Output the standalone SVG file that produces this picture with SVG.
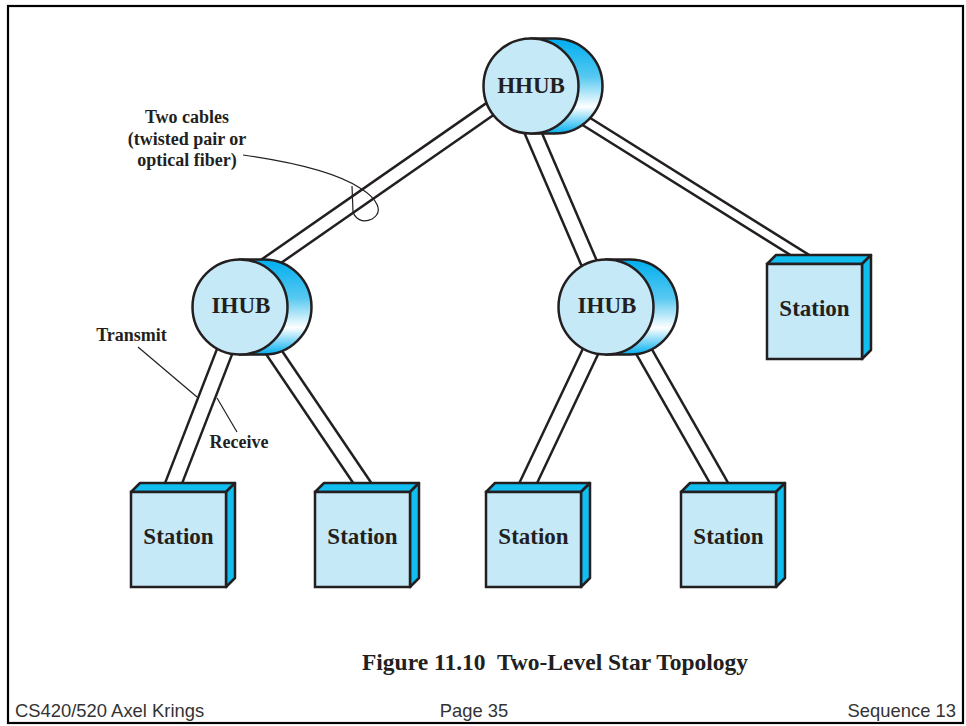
<svg xmlns="http://www.w3.org/2000/svg" xmlns:xlink="http://www.w3.org/1999/xlink" width="966" height="726" viewBox="0 0 966 726">
<style>
.frame{fill:#fff;stroke:#000;stroke-width:2.2}
.co{fill:none;stroke:#231f20;stroke-linecap:butt}
.ci{fill:none;stroke:#fff;stroke-linecap:butt}
.front{fill:#c6e9f8;stroke:#231f20;stroke-width:2.5}
.side{fill:#12bdf0;stroke:#231f20;stroke-width:2.5;stroke-linejoin:round}
.back{fill:url(#hubg);stroke:#231f20;stroke-width:2.5}
.lbl{font-family:"Liberation Serif","Times New Roman",serif;font-weight:bold;fill:#231f20;text-anchor:middle}
.node{font-size:23px}
.ann{font-size:18px}
.cap{font-size:23.5px;white-space:pre}
.lead{fill:none;stroke:#231f20;stroke-width:1.2}
.foot{font-family:"Liberation Sans",Arial,sans-serif;font-size:18.4px;fill:#333}
</style>
<defs>
<linearGradient id="hubg" x1="0" y1="0" x2="0" y2="1">
<stop offset="0" stop-color="#00aeef"/>
<stop offset="0.4" stop-color="#55c8f1"/>
<stop offset="0.72" stop-color="#ffffff"/>
<stop offset="1" stop-color="#00aeef"/>
</linearGradient>
<g id="hub">
<path class="back" d="M0,-47.5 L24,-47.5 A47.5,47.5 0 0 1 24,47.5 L0,47.5 Z"/>
<circle class="front" cx="0" cy="0" r="47.5"/>
</g>
<g id="stn">
<polygon class="side" points="0,0 9,-9 104,-9 95,0"/>
<polygon class="side" points="95,0 104,-9 104,86 95,95"/>
<rect class="front" x="0" y="0" width="95" height="95"/>
</g>
</defs>
<rect class="frame" x="8" y="6" width="955" height="717"/>
<g id="connectors">
<g id="c-hhub-ihub1"><path class="co" stroke-width="16.5" d="M505,98.6 L250,276"/><path class="ci" stroke-width="11.5" d="M505,98.6 L250,276"/></g>
<g id="c-hhub-ihub2"><path class="co" stroke-width="18.5" d="M519,100 L605,300"/><path class="ci" stroke-width="13.5" d="M519,100 L605,300"/></g>
<g id="c-hhub-st5"><path class="co" stroke-width="12.5" d="M560,105 L811,262"/><path class="ci" stroke-width="7.5" d="M560,105 L811,262"/></g>
<g id="c-ihub1-st1"><path class="co" stroke-width="18.5" d="M236.8,320 L171.7,488"/><path class="ci" stroke-width="13.5" d="M236.8,320 L171.7,488"/></g>
<g id="c-ihub1-st2"><path class="co" stroke-width="17.5" d="M252,320 L367,490"/><path class="ci" stroke-width="12.5" d="M252,320 L367,490"/></g>
<g id="c-ihub2-st3"><path class="co" stroke-width="18.5" d="M605.4,320 L524.9,490"/><path class="ci" stroke-width="13.5" d="M605.4,320 L524.9,490"/></g>
<g id="c-ihub2-st4"><path class="co" stroke-width="18.5" d="M626,320 L723,490"/><path class="ci" stroke-width="13.5" d="M626,320 L723,490"/></g>
</g>
<g id="hhub"><use xlink:href="#hub" href="#hub" x="531" y="86"/><text class="lbl node" x="531" y="93">HHUB</text></g>
<g id="ihub1"><use xlink:href="#hub" href="#hub" x="240" y="307"/><text class="lbl node" x="241" y="313">IHUB</text></g>
<g id="ihub2"><use xlink:href="#hub" href="#hub" x="606" y="307"/><text class="lbl node" x="607" y="313">IHUB</text></g>
<g id="station1"><use xlink:href="#stn" href="#stn" x="131" y="492"/><text class="lbl node" x="178.5" y="544">Station</text></g>
<g id="station2"><use xlink:href="#stn" href="#stn" x="315" y="492"/><text class="lbl node" x="362.5" y="544">Station</text></g>
<g id="station3"><use xlink:href="#stn" href="#stn" x="486" y="492"/><text class="lbl node" x="533.5" y="544">Station</text></g>
<g id="station4"><use xlink:href="#stn" href="#stn" x="681" y="492"/><text class="lbl node" x="728.5" y="544">Station</text></g>
<g id="station5"><use xlink:href="#stn" href="#stn" x="767" y="264"/><text class="lbl node" x="814.5" y="316">Station</text></g>
<g id="annotations">
<text class="lbl ann" x="187" y="123">Two cables</text>
<text class="lbl ann" x="187" y="145">(twisted pair or</text>
<text class="lbl ann" x="187" y="166">optical fiber)</text>
<path class="lead" d="M243,155 C300,163 340,175 360,188 C378,199 384,212 372,219 C362,224 355,218 353,212 L352,186"/>
<text class="lbl ann" x="131.5" y="341">Transmit</text>
<path class="lead" d="M138,347 L197,397"/>
<text class="lbl ann" x="239" y="448">Receive</text>
<path class="lead" d="M237,432 L217,398"/>
</g>
<text class="lbl cap" x="555" y="670" xml:space="preserve">Figure 11.10  Two-Level Star Topology</text>
<text class="foot" x="15" y="717">CS420/520 Axel Krings</text>
<text class="foot" x="474" y="717" text-anchor="middle">Page 35</text>
<text class="foot" x="956" y="717" text-anchor="end">Sequence 13</text>
</svg>
